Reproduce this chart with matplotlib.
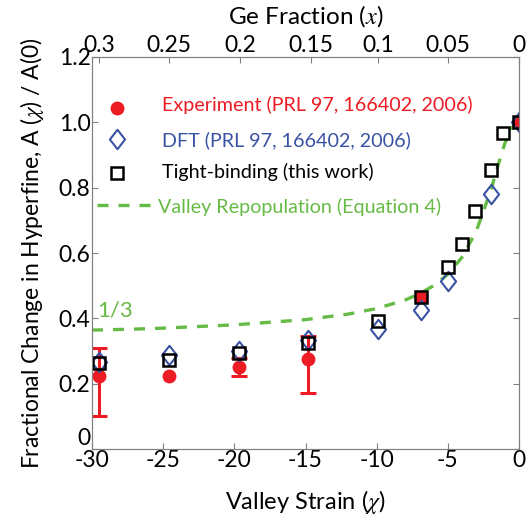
import numpy as np
import matplotlib
matplotlib.use("Agg")
import matplotlib.pyplot as plt
from matplotlib.path import Path

plt.rcParams['font.family'] = ['Lato', 'DejaVu Sans']
plt.rcParams['mathtext.fontset'] = 'stix'

# data
exp_x = [-29.5, -24.6, -19.7, -14.8, -6.9, 0.0]
exp_y = [0.224, 0.224, 0.252, 0.275, 0.466, 1.0]
err_x = [-29.5, -19.7, -14.8]
err_mid = [0.224, 0.252, 0.275]
err_low = [0.10, 0.222, 0.17]
err_high = [0.31, 0.28, 0.345]

dft_x = [-29.5, -24.6, -19.7, -14.8, -9.9, -6.9, -5.0, -2.0, 0.0]
dft_y = [0.267, 0.288, 0.300, 0.334, 0.367, 0.425, 0.514, 0.780, 1.0]

tb_x = [-29.5, -24.6, -19.7, -14.8, -9.9, -6.9, -5.0, -4.0, -3.1, -2.0, -1.1, 0.0]
tb_y = [0.263, 0.272, 0.293, 0.325, 0.392, 0.466, 0.558, 0.627, 0.728, 0.854, 0.966, 1.0]

curve_x = [-30, -27, -25, -20, -15, -12, -10, -8, -7, -6, -5, -4, -3, -2, -1.5, -1, -0.5, 0]
curve_y = [0.364, 0.367, 0.370, 0.380, 0.396, 0.413, 0.430, 0.456, 0.475, 0.500,
           0.535, 0.587, 0.667, 0.789, 0.864, 0.935, 0.984, 1.0]

ge_labels = ['0.3', '0.25', '0.2', '0.15', '0.1', '0.05', '0']
ge_pos = [-29.5, -24.6, -19.6, -14.6, -9.9, -5.0, 0.0]

red = '#ed1c24'
blue = '#3953a4'
green = '#66bb46'
grey = '#808080'

diamond = Path([(0, 1), (0.78, 0), (0, -1), (-0.78, 0), (0, 1)],
               [Path.MOVETO, Path.LINETO, Path.LINETO, Path.LINETO, Path.CLOSEPOLY])
dash = (0, (3.3, 3.0))

fig = plt.figure(figsize=(5.28, 5.17), dpi=100)
ax = fig.add_axes([92 / 528, 68 / 517, 427 / 528, 392 / 517])

ax.plot(curve_x, curve_y, color=green, lw=2.4, ls=dash, zorder=2)
ax.errorbar(err_x, err_mid, yerr=[np.array(err_mid) - np.array(err_low),
                                  np.array(err_high) - np.array(err_mid)],
            fmt='none', ecolor=red, elinewidth=2.2, capsize=5.5, capthick=2.2, zorder=3)
ax.plot(exp_x, exp_y, 'o', color=red, ms=10, mec='none', zorder=4)
ax.plot(dft_x, dft_y, ls='none', marker=diamond, ms=14, mfc='none', mec=blue, mew=1.5, zorder=5)
ax.plot(tb_x, tb_y, 's', ms=8, mfc='none', mec='black', mew=1.8, zorder=6)

ax.text(-29.6, 0.425, '1/3', color=green, fontsize=16, va='center', ha='left')

# legend drawn by hand
lx, tx = 0.058, 0.163
ax.plot([lx], [0.870], 'o', color=red, ms=10, mec='none', transform=ax.transAxes, clip_on=False)
ax.plot([lx], [0.791], ls='none', marker=diamond, ms=14, mfc='none', mec=blue, mew=1.5,
        transform=ax.transAxes, clip_on=False)
ax.plot([lx], [0.704], 's', ms=8, mfc='none', mec='black', mew=1.8,
        transform=ax.transAxes, clip_on=False)
ax.plot([0.012, 0.140], [0.622, 0.622], color=green, lw=2.4, ls=dash,
        transform=ax.transAxes, clip_on=False)
leg_size = 14.2
ax.text(tx, 0.878, 'Experiment (PRL 97, 166402, 2006)', color=red, fontsize=leg_size,
        va='center', transform=ax.transAxes)
ax.text(tx, 0.789, 'DFT (PRL 97, 166402, 2006)', color=blue, fontsize=leg_size,
        va='center', transform=ax.transAxes)
ax.text(tx, 0.707, 'Tight-binding (this work)', color='black', fontsize=leg_size,
        va='center', transform=ax.transAxes)
ax.text(0.154, 0.618, 'Valley Repopulation (Equation 4)', color=green, fontsize=leg_size,
        va='center', transform=ax.transAxes)

ax.set_xlim(-30, 0)
ax.set_ylim(0, 1.2)
ax.set_xticks([-30, -25, -20, -15, -10, -5, 0])
ax.set_xticklabels(['-30', '-25', '-20', '-15', '-10', '-5', '0'])
ax.set_yticks([0, 0.2, 0.4, 0.6, 0.8, 1.0, 1.2])
ax.set_yticklabels(['0', '0.2', '0.4', '0.6', '0.8', '1.0', '1.2'])
ax.get_yticklabels()[0].set_va('bottom')  # the 0 sits a little above its tick
ax.set_xlabel(r'Valley Strain ($\chi$)', fontsize=17, labelpad=12)
ax.set_ylabel(r'Fractional Change in Hyperfine, A ($\chi$) / A(0)', fontsize=16.5, labelpad=9)
ax.tick_params(direction='in', length=4, color=grey, labelsize=16.5, pad=1,
               right=True)
for s in ax.spines.values():
    s.set_color(grey)
    s.set_linewidth(0.8)

top = ax.twiny()
top.set_xlim(ax.get_xlim())
top.set_xticks(ge_pos)
top.set_xticklabels(ge_labels)
top.tick_params(direction='in', length=4, color=grey, labelsize=16.5, pad=1)
top.set_xlabel(r'Ge Fraction ($x$)', fontsize=17.5, labelpad=8)
for s in top.spines.values():
    s.set_color(grey)
    s.set_linewidth(0.8)

fig.savefig('out.png', dpi=100)
